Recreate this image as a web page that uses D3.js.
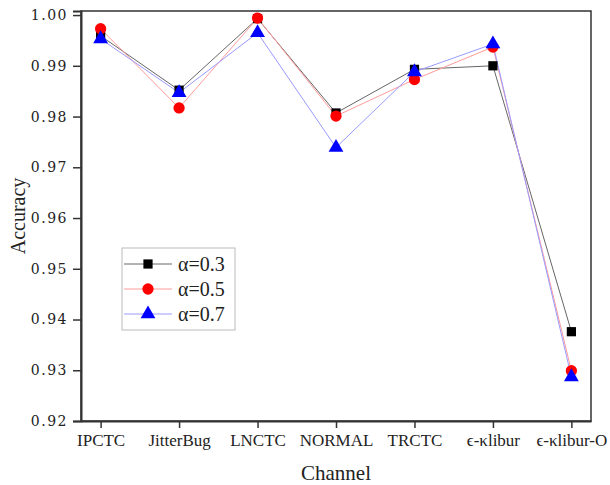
<!DOCTYPE html>
<html>
<head>
<meta charset="utf-8">
<script src="https://cdn.jsdelivr.net/npm/d3@7"></script>
<style>
  html, body { margin: 0; padding: 0; background: #fff; }
  svg text { font-family: "Liberation Serif", "Times New Roman", serif; fill: #222; }
</style>
</head>
<body>
<svg id="chart" width="610" height="485"></svg>
<script>
const categories = ["IPCTC", "JitterBug", "LNCTC", "NORMAL", "TRCTC", "\u03f5-\u03balibur", "\u03f5-\u03balibur-O"];
const alpha03 = [0.9959, 0.9852, 0.9993, 0.9807, 0.9893, 0.9900, 0.9376];
const alpha05 = [0.9973, 0.9817, 0.9994, 0.9801, 0.9873, 0.9937, 0.9299];
const alpha07 = [0.9953, 0.9847, 0.9965, 0.9739, 0.9888, 0.9943, 0.9287];
const seriesNames = ["\u03b1=0.3", "\u03b1=0.5", "\u03b1=0.7"];
const yTicks = [0.92, 0.93, 0.94, 0.95, 0.96, 0.97, 0.98, 0.99, 1.00];

const series = [
  { name: seriesNames[0], values: alpha03, line: "#666666", fill: "#000000", shape: d3.symbolSquare, size: 85 },
  { name: seriesNames[1], values: alpha05, line: "#ff9a9a", fill: "#ff0000", shape: d3.symbolCircle, size: 100 },
  { name: seriesNames[2], values: alpha07, line: "#9a9aff", fill: "#0000ff", shape: d3.symbolTriangle, size: 95 }
];

const svg = d3.select("#chart");
const pLeft = 81, pRight = 591, pTop = 11, pBottom = 421;

const x = d3.scalePoint().domain(categories).range([pLeft, pRight]).padding(0.25);
const y = d3.scaleLinear().domain([0.92, 1.0008]).range([pBottom, pTop]);

// frame
svg.append("rect").attr("x", pLeft).attr("y", pTop)
  .attr("width", pRight - pLeft).attr("height", pBottom - pTop)
  .attr("fill", "none").attr("stroke", "#333").attr("stroke-width", 1.5);

// y axis
const yAxis = svg.append("g").attr("transform", `translate(${pLeft},0)`)
  .call(d3.axisLeft(y).tickValues(yTicks).tickFormat(d3.format(".2f")).tickSize(8).tickPadding(5));
yAxis.select(".domain").attr("stroke", "#333").attr("stroke-width", 2);
yAxis.selectAll(".tick line").attr("stroke", "#333").attr("stroke-width", 1.5);
yAxis.selectAll(".tick text").attr("letter-spacing", "1.5px")
  .style("font-family", "'DejaVu Serif', serif").attr("font-size", 14).attr("fill", "#333");

// x axis
const xAxis = svg.append("g").attr("transform", `translate(0,${pBottom})`)
  .call(d3.axisBottom(x).tickSize(7).tickPadding(6).tickSizeOuter(0));
xAxis.select(".domain").attr("stroke", "#333").attr("stroke-width", 2);
xAxis.selectAll(".tick line").attr("stroke", "#333").attr("stroke-width", 1.5);
xAxis.selectAll(".tick text").attr("font-size", 17).attr("fill", "#222");

// axis titles
svg.append("text").attr("x", (pLeft + pRight) / 2).attr("y", 480)
  .attr("text-anchor", "middle").attr("font-size", 21).text("Channel");
svg.append("text").attr("transform", `translate(25,${(pTop + pBottom) / 2}) rotate(-90)`)
  .attr("text-anchor", "middle").attr("font-size", 20).text("Accuracy");

// lines & markers
const line = d3.line().x((d, i) => x(categories[i])).y(d => y(d));
series.forEach(s => {
  svg.append("path").datum(s.values).attr("d", line)
    .attr("fill", "none").attr("stroke", s.line).attr("stroke-width", 1);
});
series.forEach(s => {
  svg.append("g").selectAll("path").data(s.values).join("path")
    .attr("transform", (d, i) => `translate(${x(categories[i])},${y(d)})`)
    .attr("d", d3.symbol().type(s.shape).size(s.size))
    .attr("fill", s.fill);
});

// legend
const lg = svg.append("g").attr("transform", "translate(122,248)");
lg.append("rect").attr("width", 113).attr("height", 82)
  .attr("fill", "#fff").attr("stroke", "#bbb").attr("stroke-width", 1);
series.forEach((s, i) => {
  const cy = 16 + i * 25;
  lg.append("line").attr("x1", 2).attr("x2", 50).attr("y1", cy).attr("y2", cy)
    .attr("stroke", s.line).attr("stroke-width", 1);
  lg.append("path").attr("transform", `translate(26,${cy})`)
    .attr("d", d3.symbol().type(s.shape).size(s.size)).attr("fill", s.fill);
  lg.append("text").attr("x", 56).attr("y", cy + 7).attr("font-size", 20).text(s.name);
});
</script>
</body>
</html>
